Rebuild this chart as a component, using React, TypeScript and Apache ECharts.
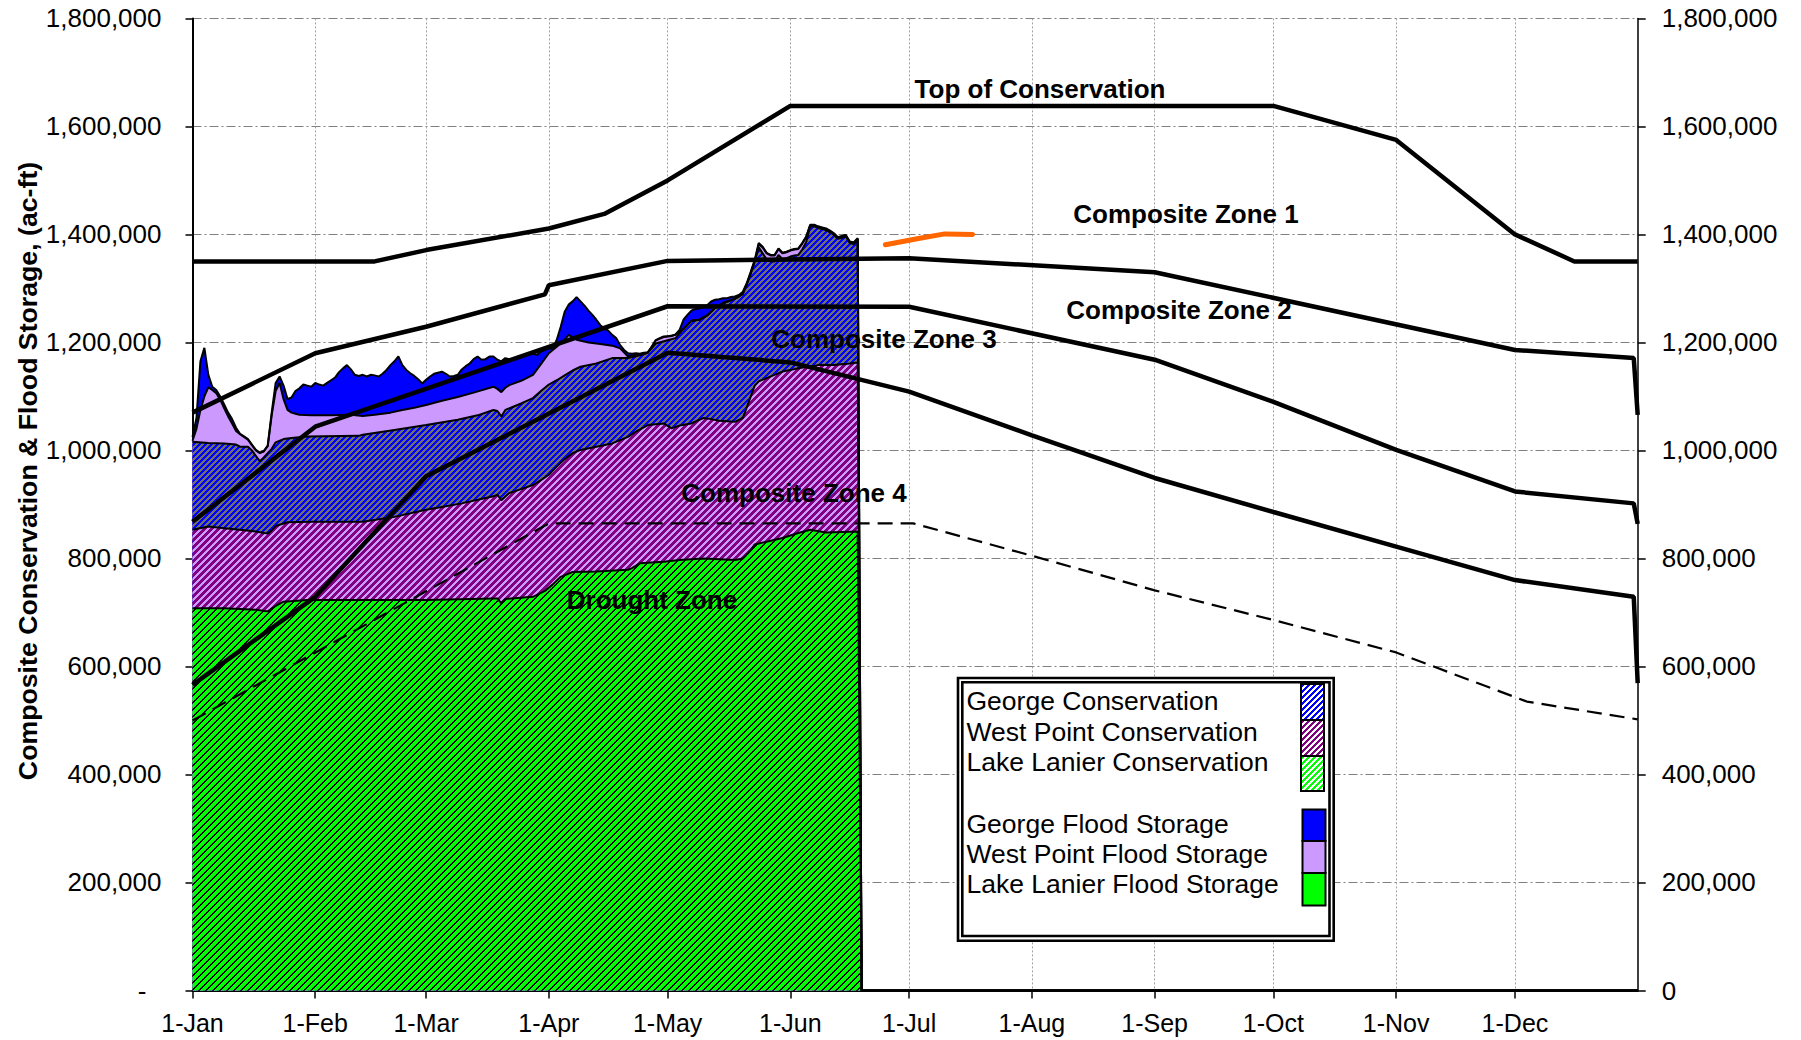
import React, { useEffect, useRef } from 'react';
import * as echarts from 'echarts';

const FONT = '"Liberation Sans", Arial, Helvetica, sans-serif';

// ---------- axis definitions ----------
const MONTHS = ['Jan', 'Feb', 'Mar', 'Apr', 'May', 'Jun', 'Jul', 'Aug', 'Sep', 'Oct', 'Nov', 'Dec'];
const MONTH_LENGTHS = [31, 28, 31, 30, 31, 30, 31, 31, 30, 31, 30, 31];
const MONTH_START_DAYS = [0, 31, 59, 90, 120, 151, 181, 212, 243, 273, 304, 334];
const Y_MAX = 1800000;
const Y_STEP = 200000;
const DATA_END_DAY = 169; // day after last observed storage (drops to zero)
const YEAR_END_DAY = 365;

// ---------- observed storage layers: cumulative tops, [day of year, thousand ac-ft] ----------
const GEORGE_FLOOD_TOP: [number, number][] = [
  [0, 1025], [1, 1060], [2, 1165], [3, 1190], [4, 1140], [5, 1118], [6, 1112], [7, 1100], [8, 1085], [9, 1070],
  [10, 1058], [11, 1042], [12, 1031], [13, 1026], [14, 1021], [15, 1011], [16, 1001], [17, 996], [18, 999], [19, 1009],
  [20, 1070], [21, 1125], [22, 1137], [23, 1120], [24, 1095], [25, 1098], [26, 1110], [27, 1115], [28, 1122], [29, 1120],
  [30, 1118], [31, 1125], [32, 1122], [33, 1120], [34, 1125], [35, 1130], [36, 1135], [37, 1145], [38, 1152], [39, 1158],
  [40, 1150], [41, 1140], [42, 1138], [43, 1140], [44, 1137], [45, 1140], [46, 1139], [47, 1137], [48, 1142], [49, 1149],
  [50, 1158], [51, 1165], [52, 1174], [53, 1158], [54, 1149], [55, 1143], [56, 1138], [57, 1132], [58, 1124], [59, 1131],
  [60, 1137], [61, 1142], [62, 1144], [63, 1146], [64, 1142], [65, 1137], [66, 1138], [67, 1140], [68, 1150], [69, 1156],
  [70, 1161], [71, 1169], [72, 1174], [73, 1168], [74, 1169], [75, 1174], [76, 1174], [77, 1168], [78, 1165], [79, 1171],
  [80, 1169], [81, 1168], [82, 1171], [83, 1173], [84, 1177], [85, 1179], [86, 1179], [87, 1177], [88, 1183], [89, 1186],
  [90, 1189], [91, 1188], [92, 1205], [93, 1229], [94, 1257], [95, 1270], [96, 1276], [97, 1284], [98, 1276], [99, 1268],
  [100, 1259], [101, 1251], [102, 1242], [103, 1232], [104, 1226], [105, 1222], [106, 1214], [107, 1208], [108, 1195], [109, 1186],
  [110, 1180], [111, 1179], [112, 1180], [113, 1179], [114, 1181], [115, 1182], [116, 1192], [117, 1204], [118, 1208], [119, 1211],
  [120, 1211], [121, 1212], [122, 1215], [123, 1223], [124, 1242], [125, 1251], [126, 1259], [127, 1262], [128, 1263], [129, 1265],
  [130, 1269], [131, 1276], [132, 1279], [133, 1280], [134, 1282], [135, 1282], [136, 1284], [137, 1285], [138, 1288], [139, 1294],
  [140, 1310], [141, 1331], [142, 1353], [143, 1384], [144, 1377], [145, 1366], [146, 1362], [147, 1362], [148, 1374], [149, 1366],
  [150, 1368], [151, 1371], [152, 1373], [153, 1374], [154, 1384], [155, 1396], [156, 1418], [157, 1418], [158, 1415], [159, 1413],
  [160, 1411], [161, 1407], [162, 1402], [163, 1395], [164, 1397], [165, 1399], [166, 1387], [167, 1385], [168, 1393],
];

const WEST_POINT_FLOOD_TOP: [number, number][] = [
  [0, 1018], [1, 1040], [2, 1075], [3, 1100], [4, 1117], [5, 1112], [6, 1106], [7, 1094], [8, 1078], [9, 1063],
  [10, 1050], [11, 1036], [12, 1030], [13, 1025], [14, 1020], [15, 1010], [16, 1000], [17, 995], [18, 998], [19, 1008],
  [20, 1065], [21, 1110], [22, 1125], [23, 1095], [24, 1075], [25, 1070], [26, 1068], [27, 1066], [30, 1065], [35, 1065],
  [40, 1066], [43, 1064], [46, 1066], [50, 1070], [53, 1075], [56, 1079], [59, 1084], [63, 1092], [67, 1099], [71, 1107],
  [76, 1118], [77, 1114], [78, 1108], [79, 1116], [80, 1121], [83, 1129], [86, 1140], [88, 1160], [90, 1180], [92, 1192],
  [94, 1205], [95, 1214], [97, 1205], [100, 1200], [103, 1197], [106, 1194], [108, 1189], [110, 1174], [112, 1177], [115, 1181],
  [117, 1204], [119, 1210], [122, 1214], [124, 1225], [126, 1240], [128, 1242], [130, 1250], [132, 1264], [134, 1273], [136, 1278],
  [138, 1285], [139, 1290], [140, 1308], [141, 1328], [142, 1350], [143, 1382], [144, 1376], [145, 1365], [146, 1361], [147, 1361],
  [148, 1373], [149, 1365], [150, 1367], [151, 1370], [152, 1372], [153, 1373], [154, 1383], [155, 1395], [156, 1417], [157, 1417],
  [158, 1414], [159, 1412], [160, 1410], [161, 1406], [162, 1401], [163, 1394], [164, 1396], [165, 1398], [166, 1386], [167, 1384],
  [168, 1392],
];

const GEORGE_CONS_TOP: [number, number][] = [
  [0, 1016], [4, 1014], [8, 1013], [11, 1011], [12, 1007], [14, 1007], [15, 1000], [16, 990], [17, 980], [18, 987],
  [19, 995], [20, 1003], [21, 1015], [23, 1021], [25, 1023], [29, 1026], [42, 1027], [43, 1029], [51, 1038], [59, 1047],
  [67, 1057], [72, 1065], [76, 1075], [77, 1073], [78, 1063], [79, 1075], [83, 1087], [86, 1097], [88, 1110], [90, 1122],
  [92, 1130], [94, 1139], [96, 1148], [98, 1155], [102, 1161], [106, 1171], [110, 1171], [113, 1176], [115, 1181], [117, 1198],
  [120, 1204], [122, 1208], [124, 1225], [126, 1240], [128, 1242], [130, 1250], [132, 1264], [134, 1273], [136, 1278], [138, 1285],
  [139, 1290], [140, 1308], [141, 1328], [142, 1350], [143, 1376], [144, 1365], [145, 1354], [146, 1350], [147, 1350], [148, 1362],
  [149, 1354], [150, 1356], [151, 1359], [152, 1361], [153, 1362], [154, 1372], [155, 1386], [156, 1415], [157, 1415], [158, 1412],
  [159, 1410], [160, 1408], [161, 1404], [162, 1399], [163, 1392], [164, 1394], [165, 1396], [166, 1384], [167, 1382], [168, 1390],
];

const WEST_POINT_CONS_TOP: [number, number][] = [
  [0, 853], [4, 859], [8, 856], [12, 853], [16, 850], [19, 846], [20, 852], [21, 860], [24, 867], [30, 868],
  [43, 868], [51, 877], [59, 890], [68, 902], [76, 915], [77, 918], [78, 908], [80, 921], [86, 936], [88, 945],
  [90, 955], [92, 970], [94, 984], [96, 995], [98, 1001], [102, 1007], [106, 1013], [110, 1025], [112, 1035], [115, 1047],
  [119, 1050], [121, 1041], [123, 1046], [126, 1050], [129, 1060], [131, 1058], [133, 1055], [137, 1053], [139, 1060], [140, 1080],
  [141, 1100], [142, 1120], [143, 1128], [145, 1134], [149, 1146], [153, 1152], [158, 1158], [162, 1158], [166, 1161], [168, 1163],
];

const LANIER_CONS_TOP: [number, number][] = [
  [0, 708], [8, 708], [16, 705], [19, 702], [21, 712], [23, 720], [29, 723], [43, 723], [59, 723], [76, 726],
  [77, 726], [78, 717], [79, 725], [86, 729], [89, 740], [91, 752], [93, 766], [96, 775], [102, 776], [110, 779],
  [111, 782], [113, 791], [119, 794], [123, 797], [129, 800], [137, 797], [139, 800], [141, 815], [142, 826], [145, 831],
  [149, 838], [153, 847], [156, 853], [160, 848], [168, 850],
];

// ---------- guide curves, [day of year, thousand ac-ft] ----------
const TOP_OF_CONSERVATION: [number, number][] = [
  [0, 1350], [46, 1350], [59, 1371], [90, 1411], [104, 1438], [120, 1500], [151, 1638], [273, 1638], [304, 1575], [334, 1400], [349, 1350], [365, 1350],
];
const ZONE_1: [number, number][] = [
  [0, 1070], [31, 1180], [59, 1229], [89, 1289], [90, 1306], [120, 1351], [181, 1356], [243, 1330], [334, 1186], [364, 1171], [365, 1066],
];
const ZONE_2: [number, number][] = [
  [0, 868], [31, 1044], [120, 1267], [181, 1266], [243, 1168], [273, 1090], [304, 1001], [334, 924], [364, 902], [365, 864],
];
const ZONE_3: [number, number][] = [
  [0, 566], [31, 729], [59, 952], [120, 1181], [151, 1163], [181, 1109], [212, 1028], [243, 949], [273, 886], [304, 822], [334, 760], [364, 729], [365, 569],
];
const DROUGHT_LINE: [number, number][] = [
  [0, 500], [90, 865], [182, 865], [212, 805], [243, 741], [273, 686], [304, 626], [337, 535], [365, 502],
];
const FORECAST_LINE: [number, number][] = [
  [175, 1381], [183, 1392], [190, 1401], [197, 1400],
];

const ZONE_LABELS = ['Top of Conservation', 'Composite Zone 1', 'Composite Zone 2', 'Composite Zone 3', 'Composite Zone 4', 'Drought Zone'];
const LEGEND_CONS = ['George Conservation', 'West Point Conservation', 'Lake Lanier Conservation'];
const LEGEND_FLOOD = ['George Flood Storage', 'West Point Flood Storage', 'Lake Lanier Flood Storage'];
const Y_TITLE = 'Composite Conservation & Flood Storage, (ac-ft)';

function hexToRgb(h: string) {
  return [parseInt(h.slice(1, 3), 16), parseInt(h.slice(3, 5), 16), parseInt(h.slice(5, 7), 16)];
}

function stripes(a: string, b: string, period: number, aw: number) {
  const c = document.createElement('canvas');
  c.width = period;
  c.height = period;
  const ctx = c.getContext('2d')!;
  const img = ctx.createImageData(period, period);
  const A = hexToRgb(a);
  const B = hexToRgb(b);
  for (let y = 0; y < period; y++) {
    for (let x = 0; x < period; x++) {
      const k = (x + y) % period;
      const col = k < aw ? A : B;
      const i = (y * period + x) * 4;
      img.data[i] = col[0];
      img.data[i + 1] = col[1];
      img.data[i + 2] = col[2];
      img.data[i + 3] = 255;
    }
  }
  ctx.putImageData(img, 0, 0);
  return { image: c, repeat: 'repeat', imageWidth: period, imageHeight: period } as any;
}

function buildCategories() {
  const cats: string[] = [];
  MONTHS.forEach((m, i) => {
    for (let d = 1; d <= MONTH_LENGTHS[i]; d++) cats.push(`${d}-${m}`);
  });
  cats.push('1-Jan');
  return cats;
}

export default function App() {
  const ref = useRef<HTMLDivElement>(null);

  useEffect(() => {
    document.body.style.margin = '0';
    if (!ref.current) return;
    const chart = echarts.init(ref.current, null, { renderer: 'svg' });

    const pGeorge = stripes('#0000ff', '#707070', 6, 3);
    const pWest = stripes('#cc99ff', '#800080', 7, 3);
    const pLanier = stripes('#00ff00', '#000000', 7, 5);
    const lGeorge = stripes('#0000ff', '#ffffff', 6, 3);
    const lWest = stripes('#800080', '#ffffff', 6, 3);
    const lLanier = stripes('#00ff00', '#ffffff', 6, 3);

    const isMonthStart = (index: number) => MONTH_START_DAYS.indexOf(index) >= 0;
    const toSeries = (pts: [number, number][]) => pts.map(([d, v]) => [d, v * 1000]);

    const area = (name: string, pts: [number, number][], fill: any) => ({
      name,
      type: 'line',
      data: [...toSeries(pts), [DATA_END_DAY, 0], [YEAR_END_DAY, 0]],
      symbol: 'none',
      showSymbol: false,
      silent: true,
      color: '#000',
      lineStyle: { color: '#000', width: 2 },
      areaStyle: { color: fill, opacity: 1 },
      z: 2,
    });

    const guide = (name: string, pts: [number, number][], style: any) => ({
      name,
      type: 'line',
      data: toSeries(pts),
      symbol: 'none',
      showSymbol: false,
      silent: true,
      color: style.color || '#000',
      lineStyle: { color: '#000', width: 4.5, ...style },
      z: 5,
    });

    const txt = (text: string, x: number, y: number, font: string, extra: any = {}) => ({
      type: 'text',
      x,
      y,
      z: 100,
      silent: true,
      ...extra,
      style: {
        text,
        font,
        fill: '#000',
        align: extra.align || 'center',
        textAlign: extra.align || 'center',
        verticalAlign: 'middle',
        textVerticalAlign: 'middle',
      },
    });

    const legendFont = `26.5px ${FONT}`;
    const zoneFont = `bold 26px ${FONT}`;

    const graphic: any[] = [
      txt(ZONE_LABELS[0], 1040, 88.5, zoneFont),
      txt(ZONE_LABELS[1], 1186, 213.5, zoneFont),
      txt(ZONE_LABELS[2], 1179, 310, zoneFont),
      txt(ZONE_LABELS[3], 884, 339, zoneFont),
      txt(ZONE_LABELS[4], 794, 492.5, zoneFont),
      txt(ZONE_LABELS[5], 652, 600, zoneFont),
      txt(Y_TITLE, 27.5, 471, `bold 26.7px ${FONT}`, { rotation: Math.PI / 2 }),
      // legend frame
      { type: 'rect', z: 90, silent: true, shape: { x: 958, y: 678, width: 375.7, height: 262.7 }, style: { fill: '#fff', stroke: '#000', lineWidth: 2.6 } },
      { type: 'rect', z: 91, silent: true, shape: { x: 962.3, y: 682.3, width: 367.2, height: 253.7 }, style: { fill: 'none', stroke: '#000', lineWidth: 2.6 } },
    ];
    const consY = [701, 731.5, 761.5];
    const floodY = [823.5, 854, 884];
    const consFills = [lGeorge, lWest, lLanier];
    const floodFills = ['#0000ff', '#cc99ff', '#00ff00'];
    const consSw = [[684, 36], [720, 36], [756, 35]];
    const floodSw = [[809.5, 31.5], [841, 32], [873, 32.5]];
    LEGEND_CONS.forEach((t, i) => {
      graphic.push({ ...txt(t, 966.5, consY[i], legendFont, { align: 'left' }), z: 95 });
      graphic.push({ type: 'rect', z: 94, silent: true, shape: { x: 1301, y: consSw[i][0], width: 23, height: consSw[i][1] }, style: { fill: consFills[i], stroke: '#000', lineWidth: 2 } });
    });
    LEGEND_FLOOD.forEach((t, i) => {
      graphic.push({ ...txt(t, 966.5, floodY[i], legendFont, { align: 'left' }), z: 95 });
      graphic.push({ type: 'rect', z: 94, silent: true, shape: { x: 1302.5, y: floodSw[i][0], width: 23, height: floodSw[i][1] }, style: { fill: floodFills[i], stroke: '#000', lineWidth: 2 } });
    });

    const option: any = {
      animation: false,
      backgroundColor: '#ffffff',
      grid: { left: 192.5, right: 163.3, top: 18.4, bottom: 49.5, containLabel: false },
      xAxis: {
        type: 'category',
        boundaryGap: false,
        data: buildCategories(),
        axisLine: { show: true, lineStyle: { color: '#000', width: 2 } },
        axisTick: { show: true, interval: isMonthStart, length: 8, lineStyle: { color: '#000', width: 1.5 } },
        axisLabel: { interval: isMonthStart, margin: 20, color: '#000', fontSize: 25, fontFamily: FONT },
        splitLine: { show: true, interval: isMonthStart, lineStyle: { color: '#a0a0a0', width: 1, type: [2, 2] } },
      },
      yAxis: [
        {
          type: 'value', min: 0, max: Y_MAX, interval: Y_STEP, position: 'left',
          axisLine: { show: true, lineStyle: { color: '#000', width: 2 } },
          axisTick: { show: true, length: 7, lineStyle: { color: '#000', width: 1.5 } },
          axisLabel: {
            margin: 31, color: '#000', fontSize: 26, fontFamily: FONT,
            formatter: (v: number) => (v === 0 ? '{d|-}' : v.toLocaleString('en-US')),
            rich: { d: { fontSize: 26, fontFamily: FONT, color: '#000', padding: [0, 15, 0, 0] } },
          },
          splitLine: { show: true, lineStyle: { color: '#808080', width: 1, type: [9, 3, 2, 3] } },
        },
        {
          type: 'value', min: 0, max: Y_MAX, interval: Y_STEP, position: 'right',
          axisLine: { show: true, lineStyle: { color: '#000', width: 1.5 } },
          axisTick: { show: true, length: 8, lineStyle: { color: '#000', width: 1.5 } },
          axisLabel: { margin: 24, color: '#000', fontSize: 26, fontFamily: FONT, formatter: (v: number) => v.toLocaleString('en-US') },
          splitLine: { show: false },
        },
      ],
      series: [
        area(LEGEND_FLOOD[0], GEORGE_FLOOD_TOP, '#0000ff'),
        area(LEGEND_FLOOD[1], WEST_POINT_FLOOD_TOP, '#cc99ff'),
        area(LEGEND_CONS[0], GEORGE_CONS_TOP, pGeorge),
        area(LEGEND_CONS[1], WEST_POINT_CONS_TOP, pWest),
        area(LEGEND_CONS[2], LANIER_CONS_TOP, pLanier),
        guide('Top of Conservation', TOP_OF_CONSERVATION, {}),
        guide('Composite Zone 1', ZONE_1, {}),
        guide('Composite Zone 2', ZONE_2, {}),
        guide('Composite Zone 3', ZONE_3, {}),
        guide('Drought Zone', DROUGHT_LINE, { width: 2.2, type: [15, 8] }),
        guide('Forecast', FORECAST_LINE, { color: '#ff6600', width: 5, cap: 'round' }),
      ],
      graphic,
    };

    chart.setOption(option);
    return () => chart.dispose();
  }, []);

  return <div ref={ref} style={{ width: 1801, height: 1040 }} />;
}
